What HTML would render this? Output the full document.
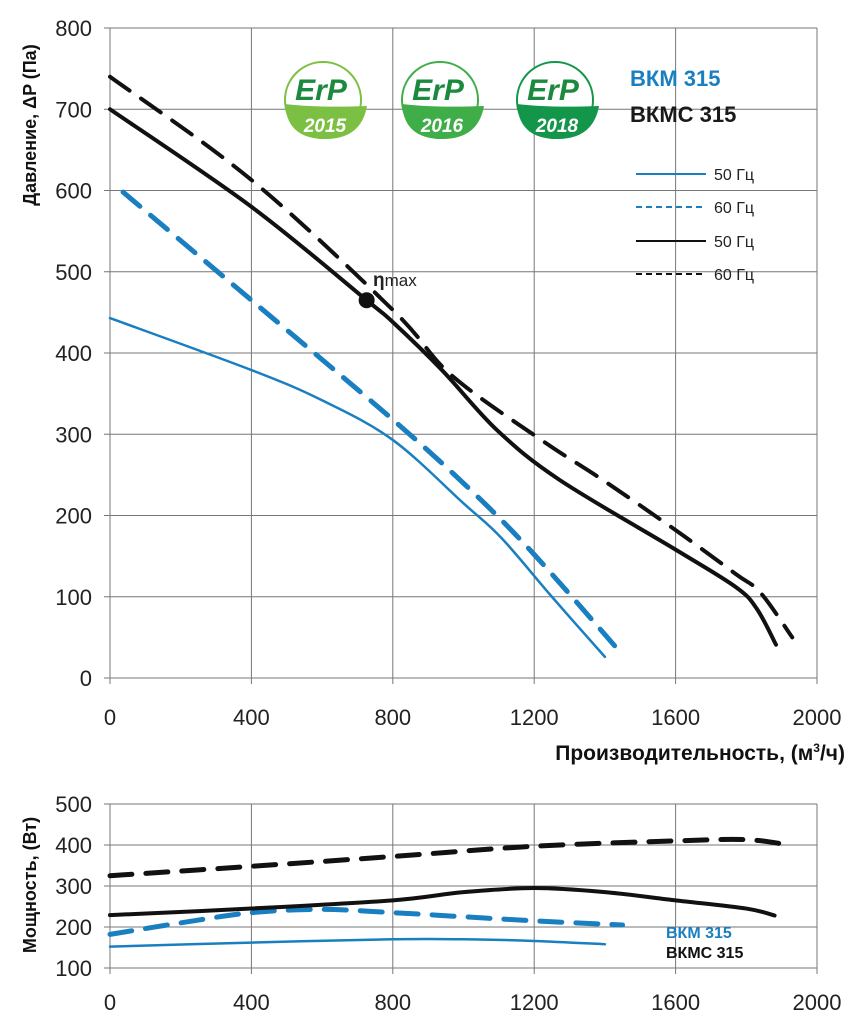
<!DOCTYPE html>
<html><head><meta charset="utf-8"><style>
body{margin:0;background:#fff;}
svg{display:block;font-family:"Liberation Sans Narrow","Liberation Sans",sans-serif;}
</style></head><body>
<svg id="c" width="859" height="1022" viewBox="0 0 859 1022" xmlns="http://www.w3.org/2000/svg">
<g id="grid"></g>
<g id="logos"></g>
<g id="series"></g>
<text x="630" y="86" font-family="Liberation Sans" font-weight="bold" font-size="22" fill="#1a7fc1">ВКМ 315</text>
<text x="630" y="122" font-family="Liberation Sans" font-weight="bold" font-size="22" fill="#1a1a1a">ВКМС 315</text>
<g font-family="Liberation Sans" font-size="16" fill="#222">
<line x1="636" y1="174" x2="706" y2="174" stroke="#1a7fc1" stroke-width="2"/>
<text x="714" y="180">50 Гц</text>
<line x1="636" y1="207" x2="706" y2="207" stroke="#1a7fc1" stroke-width="2" stroke-dasharray="6,4"/>
<text x="714" y="213">60 Гц</text>
<line x1="636" y1="241" x2="706" y2="241" stroke="#111" stroke-width="2"/>
<text x="714" y="247">50 Гц</text>
<line x1="636" y1="274" x2="706" y2="274" stroke="#111" stroke-width="2" stroke-dasharray="6,4"/>
<text x="714" y="280">60 Гц</text>
</g>
<text x="373" y="286" font-family="Liberation Sans" font-size="17" fill="#222"><tspan font-weight="bold" font-size="19">η</tspan>max</text>
<text transform="translate(36,125) rotate(-90)" text-anchor="middle" font-family="Liberation Sans" font-weight="bold" font-size="18" fill="#111">Давление, ΔP (Па)</text>
<text x="845" y="760" text-anchor="end" font-weight="bold" font-size="21" fill="#111">Производительность, (м<tspan dy="-8" font-size="12">3</tspan><tspan dy="8">/ч)</tspan></text>
<text transform="translate(36,885) rotate(-90)" text-anchor="middle" font-family="Liberation Sans" font-weight="bold" font-size="18" fill="#111">Мощность, (Вт)</text>
<text x="666" y="938" font-weight="bold" font-size="16" fill="#1a7fc1">ВКМ 315</text>
<text x="666" y="958" font-weight="bold" font-size="16" fill="#111">ВКМС 315</text>
</svg>
<script>
const xTicks=[0,400,800,1200,1600,2000];
const pTicks=[0,100,200,300,400,500,600,700,800];
const wTicks=[100,200,300,400,500];
// pressure curves [flow, Pa]
const vkmcP50x=[0,400,726,800,939,1095,1271,1600,1770,1830,1884];
const vkmcP50y=[700,580,465,438,379,305,244,158,112,85,41];
const vkmcP60x=[0,400,800,965,1220,1393,1600,1770,1840,1930];
const vkmcP60y=[740,613,453,373,293,244,182,128,105,50];
const vkmP60x=[37,400,800,1021,1200,1447];
const vkmP60y=[598,465,318,231,152,30];
const vkmP50x=[0,400,599,800,1000,1108,1250,1400];
const vkmP50y=[443,379,342,293,215,172,100,26];
// power curves [flow, W]
const vkmcW60x=[0,400,800,1200,1600,1800,1920];
const vkmcW60y=[325,348,372,397,410,413,400];
const vkmcW50x=[0,400,800,1000,1200,1400,1600,1800,1880];
const vkmcW50y=[229,245,265,285,295,285,265,245,228];
const vkmW60x=[0,200,400,600,800,1000,1200,1450];
const vkmW60y=[182,210,235,243,235,225,215,205];
const vkmW50x=[0,400,800,1000,1200,1400];
const vkmW50y=[152,162,170,170,166,158];
const etaX=[726],etaY=[465];

const NS="http://www.w3.org/2000/svg";
const svg=document.getElementById('c');
const X=v=>110+v*(817-110)/2000;
const YP=v=>678-v*(650/800);
const YW=v=>968-(v-100)*(164/400);
function el(t,a,p){const e=document.createElementNS(NS,t);for(const k in a)e.setAttribute(k,a[k]);(p||svg).appendChild(e);return e;}
const grid=document.getElementById('grid');
function axes(Y,ticks,top,bottom,ly,nm){
 ticks.forEach(t=>{
  const l=el('line',{x1:X(0)-6,x2:X(2000),y1:Y(t),y2:Y(t),stroke:'#777','stroke-width':1},grid);
  
  
  const tx=el('text',{x:92,y:Y(t)+8,'text-anchor':'end','font-size':22,fill:'#222'},grid);
  tx.textContent=t;
  
  
 });
 xTicks.forEach(t=>{
  const l=el('line',{x1:X(t),x2:X(t),y1:top,y2:bottom+6,stroke:'#777','stroke-width':1},grid);
  
  
  const tx=el('text',{x:X(t),y:ly,'text-anchor':'middle','font-size':22,fill:'#222'},grid);
  tx.textContent=t;
  
  
 });
}
axes(YP,pTicks,YP(800),YP(0),725,'pressure');
axes(YW,wTicks,YW(500),YW(100),1010,'power');

function path(xs,ys,Y){
 const p=xs.map((x,i)=>[X(x),Y(ys[i])]);
 let d='M'+p[0][0]+','+p[0][1];
 for(let i=0;i<p.length-1;i++){
  const p0=p[i-1]||p[i],p1=p[i],p2=p[i+1],p3=p[i+2]||p2;
  const c1=[p1[0]+(p2[0]-p0[0])/6,p1[1]+(p2[1]-p0[1])/6];
  const c2=[p2[0]-(p3[0]-p1[0])/6,p2[1]-(p3[1]-p1[1])/6];
  d+=`C${c1[0]},${c1[1]} ${c2[0]},${c2[1]} ${p2[0]},${p2[1]}`;
 }
 return d;
}
const ser=document.getElementById('series');
const B='#1a7fc1',K='#111';
function line(xs,ys,Y,col,w,dash,nm){
 const e=el('path',{d:path(xs,ys,Y),fill:'none',stroke:col,'stroke-width':w,'stroke-dasharray':dash||'none','stroke-linecap':'round','stroke-linejoin':'round'},ser);
 
 
}
line(vkmP50x,vkmP50y,YP,B,2.5,null,'vkm-pressure-50hz');
line(vkmP60x,vkmP60y,YP,B,5,'22,14','vkm-pressure-60hz');
line(vkmcP50x,vkmcP50y,YP,K,4,null,'vkmc-pressure-50hz');
line(vkmcP60x,vkmcP60y,YP,K,4,'24,14','vkmc-pressure-60hz');
line(vkmW50x,vkmW50y,YW,B,2.5,null,'vkm-power-50hz');
line(vkmW60x,vkmW60y,YW,B,5,'22,14','vkm-power-60hz');
line(vkmcW50x,vkmcW50y,YW,K,4,null,'vkmc-power-50hz');
line(vkmcW60x,vkmcW60y,YW,K,5,'22,14','vkmc-power-60hz');
const dot=el('circle',{cx:X(etaX[0]),cy:YP(etaY[0]),r:8,fill:'#111'},ser);



const logos=document.getElementById('logos');
[[323,'2015','#7cc043'],[440,'2016','#3fae49'],[555,'2018','#13964a']].forEach(([cx,yr,col])=>{
 const g=el('g',{},logos);
 
 
 el('circle',{cx:cx,cy:100,r:38,fill:'#fff',stroke:col,'stroke-width':2},g);
 el('path',{d:`M${cx-38},104 Q${cx-5},${108} ${cx+44},106 Q${cx+38},140 ${cx},139 Q${cx-36},138 ${cx-38},104Z`,fill:col},g);
 const t=el('text',{x:cx-2,y:100,'text-anchor':'middle','font-family':'Liberation Sans','font-weight':'bold','font-style':'italic','font-size':30,fill:'#1b8a3e'},g);
 t.textContent='ErP';
 const t2=el('text',{x:cx+2,y:132,'text-anchor':'middle','font-weight':'bold','font-style':'italic','font-size':19,fill:'#fff'},g);
 t2.textContent=yr;
});
</script>
</body></html>
